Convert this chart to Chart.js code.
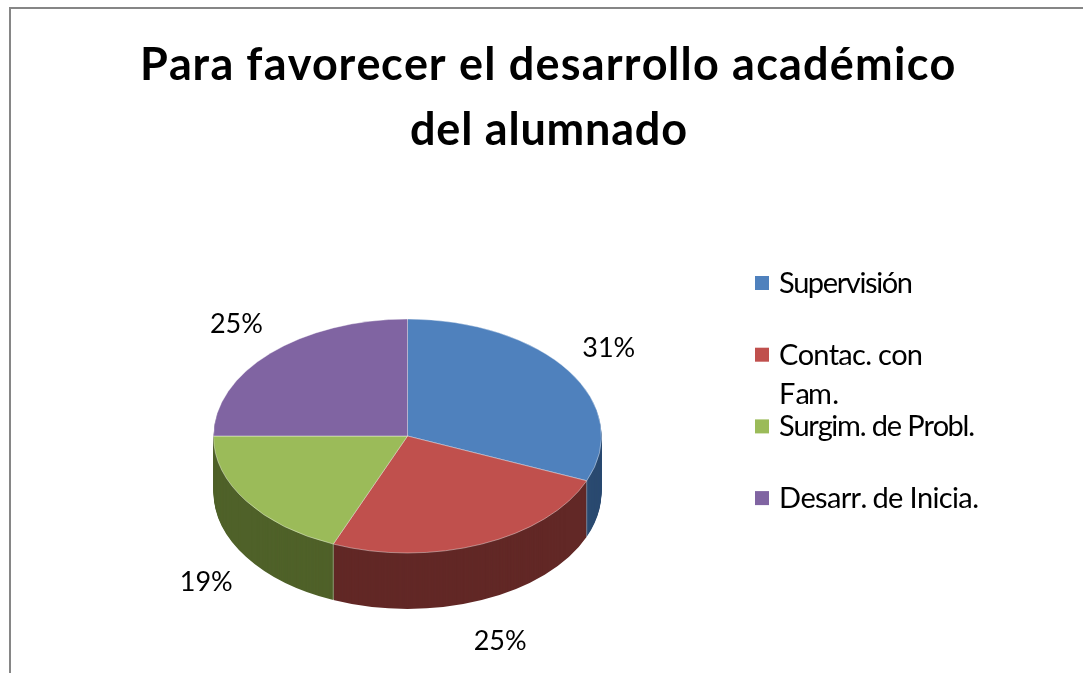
<!DOCTYPE html>
<html>
<head>
<meta charset="utf-8">
<script src="https://cdn.jsdelivr.net/npm/chart.js@4/dist/chart.umd.min.js"></script>
<style>
    html, body { margin: 0; padding: 0; background: #fff; overflow: hidden; }
    #frame { position: absolute; left: 9px; top: 7px; width: 1100px; height: 700px; border: 2px solid #868686; }
    #wrap { position: absolute; left: 0; top: 0; width: 1083px; height: 673px; }
</style>
</head>
<body>
<div id="frame"></div>
<div id="wrap"><canvas id="pieChart" width="1083" height="673"></canvas></div>
<script>
var titleLines = ['Para favorecer el desarrollo académico', 'del alumnado'];
var labels = ['Supervisión', 'Contac. con Fam.', 'Surgim. de Probl.', 'Desarr. de Inicia.'];
var legendLines = [['Supervisión'], ['Contac. con', 'Fam.'], ['Surgim. de Probl.'], ['Desarr. de Inicia.']];
var values = [5, 4, 3, 4];
var topColors = ['#4F81BD', '#C0504D', '#9BBB59', '#8064A2'];
var sideColors = ['#2A4A70', '#622826', '#4F6129', '#403152'];

var TILT = 0.603;   // vertical squash of the pie
var DEPTH = 56;     // wall height in px

// draw text so that it spans targetWidth (spreads the letters like the original)
function fitText(ctx, text, x, y, targetWidth) {
    var w0 = ctx.measureText(text).width;
    var extra = text.length > 1 ? (targetWidth - w0) / (text.length - 1) : 0;
    for (var i = 0; i < text.length; i++) {
        var px = x + ctx.measureText(text.slice(0, i)).width + i * extra;
        ctx.fillText(text[i], px, y);
    }
}

var pie3d = {
    id: 'pie3d',
    beforeDatasetsDraw: function (chart) {
        var ctx = chart.ctx;
        var arcs = chart.getDatasetMeta(0).data;
        var cx = arcs[0].x, cy = arcs[0].y, r = arcs[0].outerRadius;

        function squash(dy) {
            ctx.translate(cx, cy + dy);
            ctx.scale(1, TILT);
            ctx.translate(-cx, -cy);
        }

        // wall: same arcs stacked downwards in the dark shade
        for (var d = DEPTH; d > 0; d--) {
            ctx.save();
            squash(d);
            arcs.forEach(function (a, i) {
                var keep = a.options;
                a.options = Object.assign({}, keep, { backgroundColor: sideColors[i], borderWidth: 0 });
                a.draw(ctx);
                a.options = keep;
            });
            ctx.restore();
        }

        // seams on the front wall
        ctx.save();
        ctx.strokeStyle = 'rgba(255,255,255,0.35)';
        ctx.lineWidth = 1;
        arcs.forEach(function (a) {
            var ang = a.endAngle;
            if (Math.sin(ang) > 0.02) {
                var px = cx + r * Math.cos(ang), py = cy + r * Math.sin(ang) * TILT;
                ctx.beginPath();
                ctx.moveTo(px, py);
                ctx.lineTo(px, py + DEPTH);
                ctx.stroke();
            }
        });
        ctx.restore();

        // top face
        ctx.save();
        squash(0);
        arcs.forEach(function (a) { a.draw(ctx); });
        ctx.restore();
        return false;
    }
};

var texts = {
    id: 'texts',
    afterDraw: function (chart) {
        var ctx = chart.ctx;
        var arcs = chart.getDatasetMeta(0).data;
        var cx = arcs[0].x, cy = arcs[0].y, r = arcs[0].outerRadius;
        var total = values.reduce(function (s, v) { return s + v; }, 0);

        ctx.save();
        ctx.fillStyle = '#000';
        ctx.textBaseline = 'alphabetic';
        ctx.textAlign = 'left';

        // title
        ctx.font = 'bold 45px Lato';
        fitText(ctx, titleLines[0], 140, 80, 815);
        fitText(ctx, titleLines[1], 410, 145, 277);

        // legend
        var legendWidths = [[134], [144, 60], [196], [200]];
        ctx.font = '29px Lato';
        legendLines.forEach(function (lines, i) {
            var yc = 283 + i * 71.7;
            ctx.fillStyle = topColors[i];
            ctx.fillRect(755, yc - 7, 14, 14);
            ctx.fillStyle = '#000';
            lines.forEach(function (t, j) {
                fitText(ctx, t, 779, yc + 10 + j * 39, legendWidths[i][j]);
            });
        });

        // percent labels outside the slices
        ctx.font = '27px Lato';
        ctx.textAlign = 'center';
        arcs.forEach(function (a, i) {
            var mid = (a.startAngle + a.endAngle) / 2;
            var lx = cx + (r + 48) * Math.cos(mid);
            var ly = cy + (r + 52) * 0.65 * Math.sin(mid) + (Math.sin(mid) > 0 ? DEPTH : 0);
            ctx.fillText(Math.round(values[i] / total * 100) + '%', lx, ly + 10);
        });
        ctx.restore();
    }
};

new Chart(document.getElementById('pieChart'), {
    type: 'pie',
    data: {
        labels: labels,
        datasets: [{
            data: values,
            backgroundColor: topColors,
            borderColor: 'rgba(255,255,255,0.5)',
            borderWidth: 1
        }]
    },
    options: {
        responsive: false,
        devicePixelRatio: 1,
        animation: false,
        events: [],
        layout: { padding: { left: 213, right: 481, top: 241.5, bottom: 42.5 } },
        plugins: {
            legend: { display: false },
            title: { display: false },
            tooltip: { enabled: false }
        }
    },
    plugins: [pie3d, texts]
});
</script>
</body>
</html>
